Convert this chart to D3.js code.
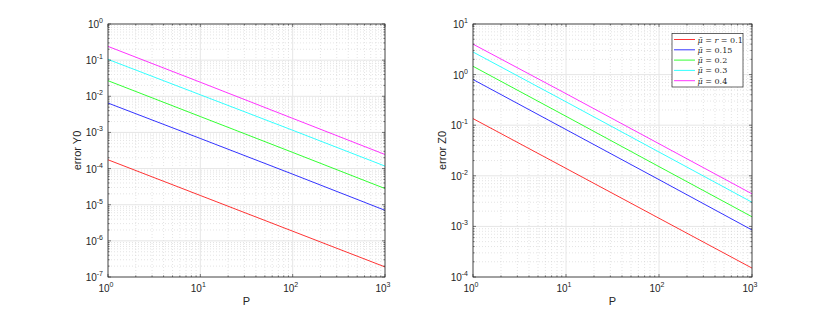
<!doctype html>
<html>
<head>
<meta charset="utf-8">
<script src="https://d3js.org/d3.v7.min.js"></script>
<style>
  body { margin: 0; background: #fff; }
  svg text { font-family: "Liberation Sans", Arial, sans-serif; fill: #262626; }
</style>
</head>
<body>
<svg id="chart" width="830" height="312"></svg>
<script>
// data
const P = [1, 10, 100, 1000];
const seriesNames = ["r = 0.1", "0.15", "0.2", "0.3", "0.4"];
const seriesColors = ["#ff0000", "#0000ff", "#00ff00", "#00ffff", "#ff00ff"];

const errY0 = [
  [1.75e-4, 1.8e-5, 1.85e-6, 1.9e-7],
  [6.5e-3, 6.8e-4, 7e-5, 7e-6],
  [2.7e-2, 2.75e-3, 2.8e-4, 2.8e-5],
  [0.105, 1.1e-2, 1.15e-3, 1.17e-4],
  [0.24, 2.45e-2, 2.45e-3, 2.45e-4]
];
const errZ0 = [
  [0.135, 1.4e-2, 1.45e-3, 1.5e-4],
  [0.8, 8.2e-2, 8.4e-3, 8.5e-4],
  [1.46, 0.15, 1.52e-2, 1.55e-3],
  [2.8, 0.29, 2.95e-2, 3.0e-3],
  [4.0, 0.42, 4.3e-2, 4.4e-3]
];

const xExps = [0, 1, 2, 3];
const yExpsLeft = [-7, -6, -5, -4, -3, -2, -1, 0];
const yExpsRight = [-4, -3, -2, -1, 0, 1];

const svg = d3.select("#chart");

function minorTicks(exps) {
  const out = [];
  for (let i = 0; i < exps.length - 1; i++)
    for (let k = 2; k <= 9; k++) out.push(k * Math.pow(10, exps[i]));
  return out;
}

// power-of-ten label as "10" + superscript
function powLabel(sel, e) {
  sel.append("tspan").text("10");
  sel.append("tspan").attr("dy", -5).attr("font-size", 7).text(e);
}

function drawPanel(box, yExps, data, ylabel, legend) {
  const x = d3.scaleLog().domain([1, 1000]).range([box.x0, box.x1]);
  const y = d3.scaleLog().domain([Math.pow(10, yExps[0]), Math.pow(10, yExps[yExps.length - 1])]).range([box.y1, box.y0]);
  const g = svg.append("g");

  const xMin = minorTicks(xExps), yMin = minorTicks(yExps);
  const xMaj = xExps.map(e => Math.pow(10, e)), yMaj = yExps.map(e => Math.pow(10, e));

  // minor grid (dotted)
  g.selectAll(".gxm").data(xMin).join("line")
    .attr("x1", d => x(d)).attr("x2", d => x(d)).attr("y1", box.y0).attr("y2", box.y1)
    .attr("stroke", "#d2d2d2").attr("stroke-width", 0.6).attr("stroke-dasharray", "1,2");
  g.selectAll(".gym").data(yMin).join("line")
    .attr("y1", d => y(d)).attr("y2", d => y(d)).attr("x1", box.x0).attr("x2", box.x1)
    .attr("stroke", "#d2d2d2").attr("stroke-width", 0.6).attr("stroke-dasharray", "1,2");
  // major grid
  g.selectAll(".gxM").data(xMaj).join("line")
    .attr("x1", d => x(d)).attr("x2", d => x(d)).attr("y1", box.y0).attr("y2", box.y1)
    .attr("stroke", "#e6e6e6").attr("stroke-width", 1);
  g.selectAll(".gyM").data(yMaj).join("line")
    .attr("y1", d => y(d)).attr("y2", d => y(d)).attr("x1", box.x0).attr("x2", box.x1)
    .attr("stroke", "#e6e6e6").attr("stroke-width", 1);

  // lines
  const line = d3.line().x((d, i) => x(P[i])).y(d => y(d));
  g.selectAll(".series").data(data).join("path")
    .attr("d", line).attr("fill", "none")
    .attr("stroke", (d, i) => seriesColors[i]).attr("stroke-width", 0.8);

  // ticks inside on all sides
  const tk = g.append("g").attr("stroke", "#262626").attr("stroke-width", 0.6);
  [[xMaj, 3], [xMin, 1.6]].forEach(([vals, len]) => {
    vals.forEach(v => {
      tk.append("line").attr("x1", x(v)).attr("x2", x(v)).attr("y1", box.y1).attr("y2", box.y1 - len);
      tk.append("line").attr("x1", x(v)).attr("x2", x(v)).attr("y1", box.y0).attr("y2", box.y0 + len);
    });
  });
  [[yMaj, 3], [yMin, 1.6]].forEach(([vals, len]) => {
    vals.forEach(v => {
      tk.append("line").attr("y1", y(v)).attr("y2", y(v)).attr("x1", box.x0).attr("x2", box.x0 + len);
      tk.append("line").attr("y1", y(v)).attr("y2", y(v)).attr("x1", box.x1).attr("x2", box.x1 - len);
    });
  });

  // box
  g.append("rect").attr("x", box.x0).attr("y", box.y0)
    .attr("width", box.x1 - box.x0).attr("height", box.y1 - box.y0)
    .attr("fill", "none").attr("stroke", "#262626").attr("stroke-width", 0.8);

  // tick labels
  xExps.forEach(e => {
    const t = g.append("text").attr("x", x(Math.pow(10, e)) - 2).attr("y", box.y1 + 15)
      .attr("font-size", 10).attr("text-anchor", "middle");
    powLabel(t, e);
  });
  yExps.forEach(e => {
    const t = g.append("text").attr("x", box.x0 - 5).attr("y", y(Math.pow(10, e)) + 4)
      .attr("font-size", 10).attr("text-anchor", "end");
    powLabel(t, e);
  });

  // axis labels
  g.append("text").attr("x", (box.x0 + box.x1) / 2).attr("y", 305)
    .attr("text-anchor", "middle").attr("font-size", 11).text("P");
  g.append("text").attr("transform", `translate(${box.x0 - 27},${(box.y0 + box.y1) / 2}) rotate(-90)`)
    .attr("text-anchor", "middle").attr("font-size", 11).text(ylabel);

  if (legend) {
    const lg = g.append("g");
    lg.append("rect").attr("x", 672).attr("y", 33.5).attr("width", 71).attr("height", 53.5)
      .attr("fill", "#fff").attr("stroke", "#262626").attr("stroke-width", 0.7);
    seriesNames.forEach((name, i) => {
      const yy = 39.5 + i * 10.3;
      lg.append("line").attr("x1", 674).attr("x2", 695).attr("y1", yy).attr("y2", yy)
        .attr("stroke", seriesColors[i]).attr("stroke-width", 0.8);
      const t = lg.append("text").attr("x", 697.5).attr("y", yy + 3)
        .attr("font-size", 8).style("font-family", "'DejaVu Serif', serif");
      t.append("tspan").attr("font-style", "italic").text("\u03BC\u0304");
      if (i === 0) {
        t.append("tspan").text(" = ");
        t.append("tspan").attr("font-style", "italic").text("r");
        t.append("tspan").text(" = 0.1");
      } else {
        t.append("tspan").text(" = " + name);
      }
    });
  }
}

drawPanel({x0: 108, x1: 385, y0: 24, y1: 277}, yExpsLeft, errY0, "error Y0", false);
drawPanel({x0: 473, x1: 752, y0: 24, y1: 277}, yExpsRight, errZ0, "error Z0", true);
</script>
</body>
</html>
